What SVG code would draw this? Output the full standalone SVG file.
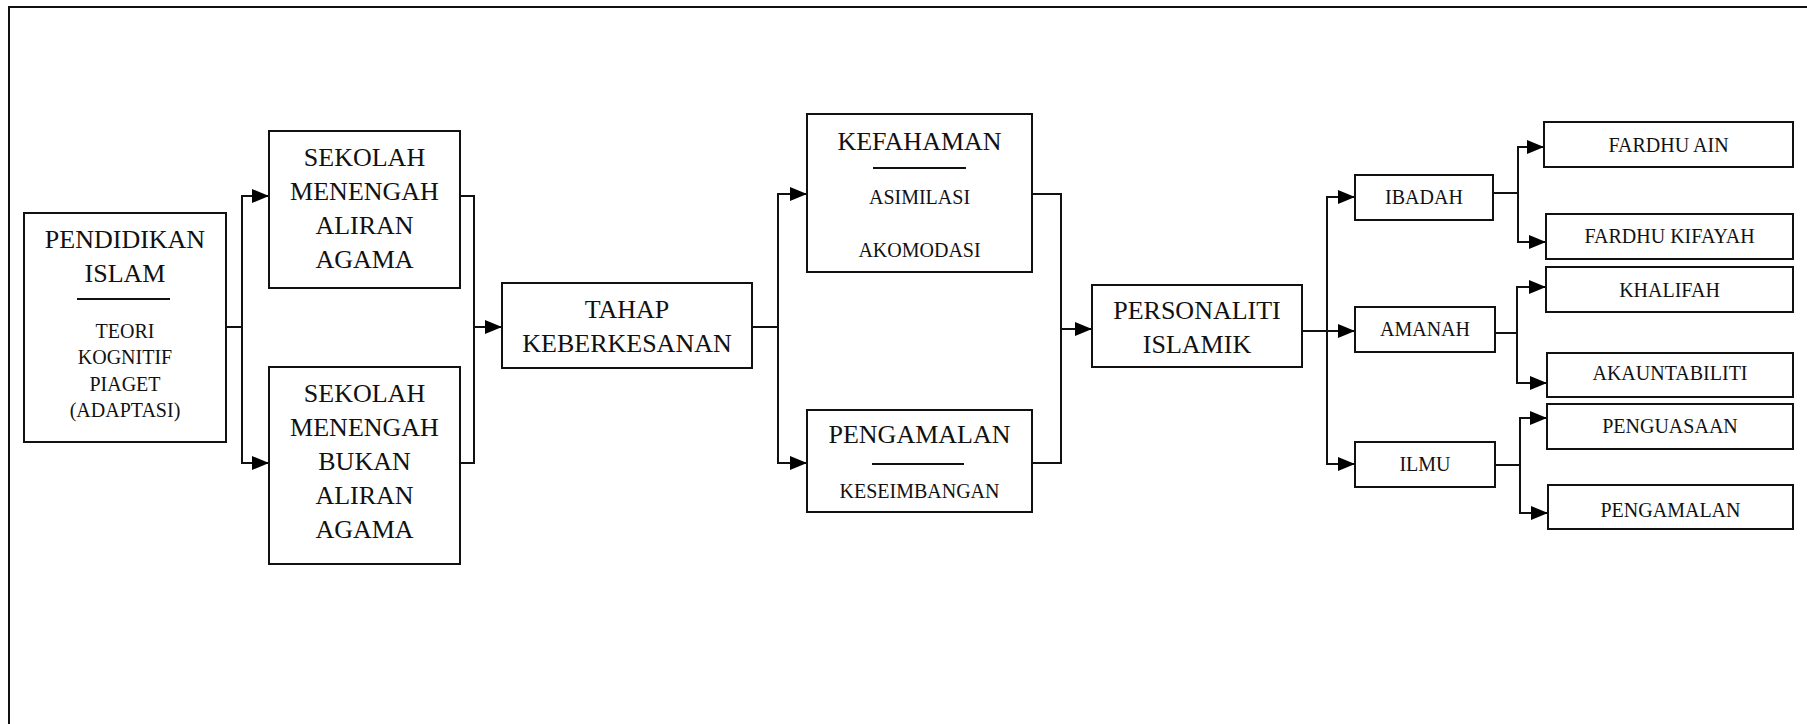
<svg xmlns="http://www.w3.org/2000/svg" width="1807" height="724" viewBox="0 0 1807 724">
<style>
.box{fill:#fff;stroke:#111;stroke-width:2}
.t{font-family:"Liberation Serif","Times New Roman",serif;fill:#111;text-anchor:middle}
.big{font-size:26px}
.sm{font-size:20px}
.con{fill:none;stroke:#111;stroke-width:2}
.ul{stroke:#111;stroke-width:2}
</style>
<defs>
<marker id="arr" viewBox="0 0 17 14" refX="17" refY="7" markerWidth="17" markerHeight="14" markerUnits="userSpaceOnUse" orient="auto">
<path d="M0,0 L17,7 L0,14 z" fill="#000"/>
</marker>
</defs>
<rect width="1807" height="724" fill="#fff"/>
<path d="M9,724 V7 H1807" fill="none" stroke="#111" stroke-width="2"/>

<g id="connectors" class="con">
<path d="M226,327 H242"/>
<path d="M242,327 V196 H269" marker-end="url(#arr)"/>
<path d="M242,327 V463 H269" marker-end="url(#arr)"/>
<path d="M460,196 H474 V463 H460"/>
<path d="M474,327 H502" marker-end="url(#arr)"/>
<path d="M752,327 H778"/>
<path d="M778,327 V194 H807" marker-end="url(#arr)"/>
<path d="M778,327 V463 H807" marker-end="url(#arr)"/>
<path d="M1032,194 H1061 V463 H1032"/>
<path d="M1061,329 H1092" marker-end="url(#arr)"/>
<path d="M1302,331 H1327"/>
<path d="M1327,331 V197 H1355" marker-end="url(#arr)"/>
<path d="M1327,331 H1355" marker-end="url(#arr)"/>
<path d="M1327,331 V464 H1355" marker-end="url(#arr)"/>
<path d="M1493,193 H1518"/>
<path d="M1518,193 V147 H1544" marker-end="url(#arr)"/>
<path d="M1518,193 V242 H1546" marker-end="url(#arr)"/>
<path d="M1495,333 H1517"/>
<path d="M1517,333 V287 H1546" marker-end="url(#arr)"/>
<path d="M1517,333 V383 H1547" marker-end="url(#arr)"/>
<path d="M1495,465 H1520"/>
<path d="M1520,465 V418 H1547" marker-end="url(#arr)"/>
<path d="M1520,465 V513 H1548" marker-end="url(#arr)"/>
</g>

<g id="pendidikan">
<rect class="box" x="24" y="213" width="202" height="229"/>
<text class="t big" x="125" y="248">PENDIDIKAN</text>
<text class="t big" x="125" y="282">ISLAM</text>
<line class="ul" x1="77" y1="299" x2="170" y2="299"/>
<text class="t sm" x="125" y="338">TEORI</text>
<text class="t sm" x="125" y="364">KOGNITIF</text>
<text class="t sm" x="125" y="391">PIAGET</text>
<text class="t sm" x="125" y="417">(ADAPTASI)</text>
</g>

<g id="sekolah-agama">
<rect class="box" x="269" y="131" width="191" height="157"/>
<text class="t big" x="364.5" y="166">SEKOLAH</text>
<text class="t big" x="364.5" y="200">MENENGAH</text>
<text class="t big" x="364.5" y="234">ALIRAN</text>
<text class="t big" x="364.5" y="268">AGAMA</text>
</g>

<g id="sekolah-bukan">
<rect class="box" x="269" y="367" width="191" height="197"/>
<text class="t big" x="364.5" y="402">SEKOLAH</text>
<text class="t big" x="364.5" y="436">MENENGAH</text>
<text class="t big" x="364.5" y="470">BUKAN</text>
<text class="t big" x="364.5" y="504">ALIRAN</text>
<text class="t big" x="364.5" y="538">AGAMA</text>
</g>

<g id="tahap">
<rect class="box" x="502" y="283" width="250" height="85"/>
<text class="t big" x="627" y="318">TAHAP</text>
<text class="t big" x="627" y="352">KEBERKESANAN</text>
</g>

<g id="kefahaman">
<rect class="box" x="807" y="114" width="225" height="158"/>
<text class="t big" x="919.5" y="150">KEFAHAMAN</text>
<line class="ul" x1="873" y1="168" x2="966" y2="168"/>
<text class="t sm" x="919.5" y="204">ASIMILASI</text>
<text class="t sm" x="919.5" y="257">AKOMODASI</text>
</g>

<g id="pengamalan-mid">
<rect class="box" x="807" y="410" width="225" height="102"/>
<text class="t big" x="919.5" y="443">PENGAMALAN</text>
<line class="ul" x1="872" y1="464" x2="964" y2="464"/>
<text class="t sm" x="919.5" y="498">KESEIMBANGAN</text>
</g>

<g id="personaliti">
<rect class="box" x="1092" y="285" width="210" height="82"/>
<text class="t big" x="1197" y="319">PERSONALITI</text>
<text class="t big" x="1197" y="353">ISLAMIK</text>
</g>

<g id="ibadah">
<rect class="box" x="1355" y="175" width="138" height="45"/>
<text class="t sm" x="1424" y="204">IBADAH</text>
</g>
<g id="amanah">
<rect class="box" x="1355" y="307" width="140" height="45"/>
<text class="t sm" x="1425" y="336">AMANAH</text>
</g>
<g id="ilmu">
<rect class="box" x="1355" y="442" width="140" height="45"/>
<text class="t sm" x="1425" y="471">ILMU</text>
</g>

<g id="fardhu-ain">
<rect class="box" x="1544" y="122" width="249" height="45"/>
<text class="t sm" x="1668.5" y="152">FARDHU AIN</text>
</g>
<g id="fardhu-kifayah">
<rect class="box" x="1546" y="214" width="247" height="45"/>
<text class="t sm" x="1669.5" y="243">FARDHU KIFAYAH</text>
</g>
<g id="khalifah">
<rect class="box" x="1546" y="267" width="247" height="45"/>
<text class="t sm" x="1669.5" y="297">KHALIFAH</text>
</g>
<g id="akauntabiliti">
<rect class="box" x="1547" y="353" width="246" height="44"/>
<text class="t sm" x="1670" y="380">AKAUNTABILITI</text>
</g>
<g id="penguasaan">
<rect class="box" x="1547" y="404" width="246" height="45"/>
<text class="t sm" x="1670" y="433">PENGUASAAN</text>
</g>
<g id="pengamalan-right">
<rect class="box" x="1548" y="485" width="245" height="44"/>
<text class="t sm" x="1670.5" y="517">PENGAMALAN</text>
</g>
</svg>
